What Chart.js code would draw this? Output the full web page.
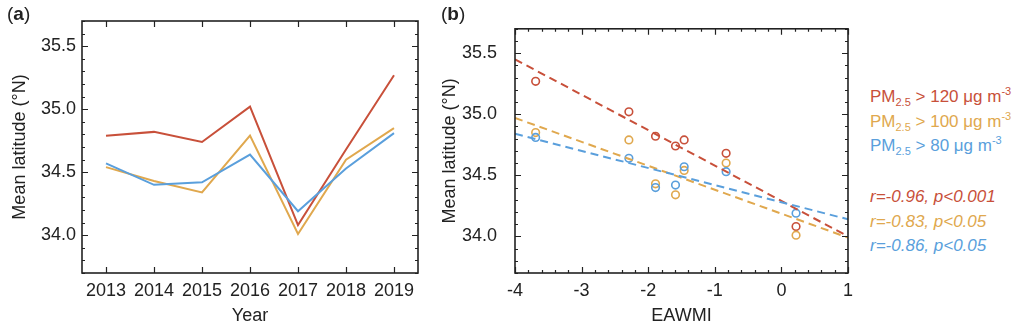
<!DOCTYPE html>
<html>
<head>
<meta charset="utf-8">
<script src="https://cdn.jsdelivr.net/npm/chart.js@4.4.1/dist/chart.umd.min.js"></script>
<style>
  html, body { margin: 0; padding: 0; background: #fff; }
  body { width: 1024px; height: 330px; position: relative; overflow: hidden;
         font-family: "Liberation Sans", Arial, sans-serif; color: #222; }
  #chartA { position: absolute; left: 0; top: 0; }
  #chartB { position: absolute; left: 430px; top: 0; }
  .tag { position: absolute; top: 3px; font-size: 19px; }
  .tag b { font-weight: bold; }
  .legend { position: absolute; left: 870px; font-size: 17px; line-height: 24.5px; white-space: nowrap; }
  .legend sub, .legend sup { font-size: 11px; line-height: 0; vertical-align: baseline; position: relative; }
  .legend sub { top: 4px; }
  .legend sup { top: -7px; }
  .stats { font-style: italic; }
</style>
</head>
<body>
<canvas id="chartA" width="430" height="330"></canvas>
<canvas id="chartB" width="430" height="330"></canvas>
<div class="tag" style="left:7px">(<b>a</b>)</div>
<div class="tag" style="left:441px">(<b>b</b>)</div>
<div class="legend" style="top:85px">
  <div style="color:#c8503a">PM<sub>2.5</sub> &gt; 120 μg m<sup>-3</sup></div>
  <div style="color:#e0a84e">PM<sub>2.5</sub> &gt; 100 μg m<sup>-3</sup></div>
  <div style="color:#5a9fdc">PM<sub>2.5</sub> &gt; 80 μg m<sup>-3</sup></div>
</div>
<div class="legend stats" style="top:185px">
  <div style="color:#c8503a">r=-0.96, p&lt;0.001</div>
  <div style="color:#e0a84e">r=-0.83, p&lt;0.05</div>
  <div style="color:#5a9fdc">r=-0.86, p&lt;0.05</div>
</div>

<script>
// Mean latitude of polluted days per year, three PM2.5 thresholds
const years = ['2013', '2014', '2015', '2016', '2017', '2018', '2019'];
const latRed = [34.79, 34.82, 34.74, 35.02, 34.08, 34.68, 35.27];     // > 120
const latOrange = [34.54, 34.43, 34.34, 34.79, 34.01, 34.60, 34.85];  // > 100
const latBlue = [34.57, 34.40, 34.42, 34.64, 34.19, 34.53, 34.81];    // > 80

// Winter monsoon index for the same years
const eawmi = [-1.46, -1.89, -1.59, -2.29, 0.22, -0.83, -3.69];

// Linear fits, end points at EAWMI = -4 and 1
const fitX = [-4, 1];
const fitRed = [35.45, 34.00];
const fitOrange = [34.97, 33.99];
const fitBlue = [34.84, 34.14];

const latTicks = [34.0, 34.5, 35.0, 35.5];
const eawmiTicks = [-4, -3, -2, -1, 0, 1];

const RED = '#c8503a', ORANGE = '#e0a84e', BLUE = '#5a9fdc', INK = '#222';
const FONT = { family: '"Liberation Sans", Arial, sans-serif', size: 18 };

// steps for the small tick marks
function steps(from, to, step) {
    const out = [];
    for (let v = from; v <= to + 1e-9; v += step) out.push(+v.toFixed(4));
    return out;
}

// box around the plot with inward ticks on all four sides
const frameTicks = {
    id: 'frameTicks',
    afterDraw(chart, args, opts) {
        const { ctx, chartArea: a, scales: { x, y } } = chart;
        ctx.save();
        ctx.strokeStyle = INK;
        ctx.lineWidth = 1.2;
        ctx.beginPath();
        const xTick = (v, len) => {
            const px = Math.round(x.getPixelForValue(v)) + 0.5;
            ctx.moveTo(px, a.bottom); ctx.lineTo(px, a.bottom - len);
            ctx.moveTo(px, a.top); ctx.lineTo(px, a.top + len);
        };
        const yTick = (v, len) => {
            const py = Math.round(y.getPixelForValue(v)) + 0.5;
            ctx.moveTo(a.left, py); ctx.lineTo(a.left + len, py);
            ctx.moveTo(a.right, py); ctx.lineTo(a.right - len, py);
        };
        opts.xMinor.forEach(v => xTick(v, 3));
        opts.xMajor.forEach(v => xTick(v, 6));
        opts.yMinor.forEach(v => yTick(v, 3));
        opts.yMajor.forEach(v => yTick(v, 6));
        ctx.stroke();
        ctx.lineWidth = 1.6;
        ctx.strokeRect(a.left, a.top, a.right - a.left, a.bottom - a.top);
        ctx.restore();
    }
};

function latAxis(width, pad) {
    return {
        min: 33.7,
        max: 35.7,
        afterFit: s => { s.width = width; },
        afterBuildTicks: s => { s.ticks = latTicks.map(v => ({ value: v })); },
        border: { display: false },
        grid: { display: false, drawTicks: false },
        ticks: { color: INK, font: FONT, padding: pad, callback: v => v.toFixed(1) },
        title: { display: true, text: 'Mean latitude (°N)', color: INK, font: FONT, padding: { top: 9 } }
    };
}

function xTitle(text) {
    return { display: true, text: text, color: INK, font: FONT, padding: { bottom: 3 } };
}

const commonOpts = {
    responsive: false,
    animation: false,
    plugins: { legend: { display: false }, tooltip: { enabled: false } }
};

// (a) yearly series
new Chart(document.getElementById('chartA'), {
    type: 'line',
    data: {
        labels: years,
        datasets: [
            { data: latBlue, borderColor: BLUE },
            { data: latOrange, borderColor: ORANGE },
            { data: latRed, borderColor: RED }
        ].map(d => Object.assign(d, { borderWidth: 2, pointRadius: 0, tension: 0 }))
    },
    options: Object.assign({}, commonOpts, {
        layout: { padding: { top: 21, right: 12, left: 0, bottom: 0 } },
        scales: {
            x: {
                type: 'category',
                offset: true,
                afterFit: s => { s.height = 57; },
                border: { display: false },
                grid: { display: false, drawTicks: false },
                ticks: { color: INK, font: FONT, padding: 7, maxRotation: 0, autoSkip: false },
                title: xTitle('Year')
            },
            y: latAxis(82, 6)
        },
        plugins: Object.assign({}, commonOpts.plugins, {
            frameTicks: { xMajor: [0, 1, 2, 3, 4, 5, 6], xMinor: [], yMajor: latTicks, yMinor: steps(33.7, 35.7, 0.1) }
        })
    }),
    plugins: [frameTicks]
});

// (b) scatter against EAWMI with fitted lines
const pts = lat => eawmi.map((e, i) => ({ x: e, y: lat[i] }));
const fit = lat => fitX.map((e, i) => ({ x: e, y: lat[i] }));
const ring = c => ({ type: 'scatter', borderColor: c, backgroundColor: 'rgba(0,0,0,0)', pointRadius: 3.8, borderWidth: 1.6 });
const dashed = c => ({ type: 'line', borderColor: c, borderWidth: 2, borderDash: [8, 5], pointRadius: 0, tension: 0 });

new Chart(document.getElementById('chartB'), {
    type: 'scatter',
    data: {
        datasets: [
            Object.assign(dashed(BLUE), { data: fit(fitBlue) }),
            Object.assign(dashed(ORANGE), { data: fit(fitOrange) }),
            Object.assign(dashed(RED), { data: fit(fitRed) }),
            Object.assign(ring(BLUE), { data: pts(latBlue) }),
            Object.assign(ring(ORANGE), { data: pts(latOrange) }),
            Object.assign(ring(RED), { data: pts(latRed) })
        ]
    },
    options: Object.assign({}, commonOpts, {
        layout: { padding: { top: 21, right: 0, left: 0, bottom: 0 } },
        scales: {
            x: {
                type: 'linear',
                min: -4,
                max: 1,
                afterFit: s => { s.height = 57; },
                afterBuildTicks: s => { s.ticks = eawmiTicks.map(v => ({ value: v })); },
                border: { display: false },
                grid: { display: false, drawTicks: false },
                ticks: { color: INK, font: FONT, padding: 7, maxRotation: 0, callback: v => String(v) },
                title: xTitle('EAWMI')
            },
            y: latAxis(85, 18)
        },
        plugins: Object.assign({}, commonOpts.plugins, {
            frameTicks: { xMajor: eawmiTicks, xMinor: steps(-4, 1, 0.2), yMajor: latTicks, yMinor: steps(33.7, 35.7, 0.1) }
        })
    }),
    plugins: [frameTicks]
});
</script>
</body>
</html>
